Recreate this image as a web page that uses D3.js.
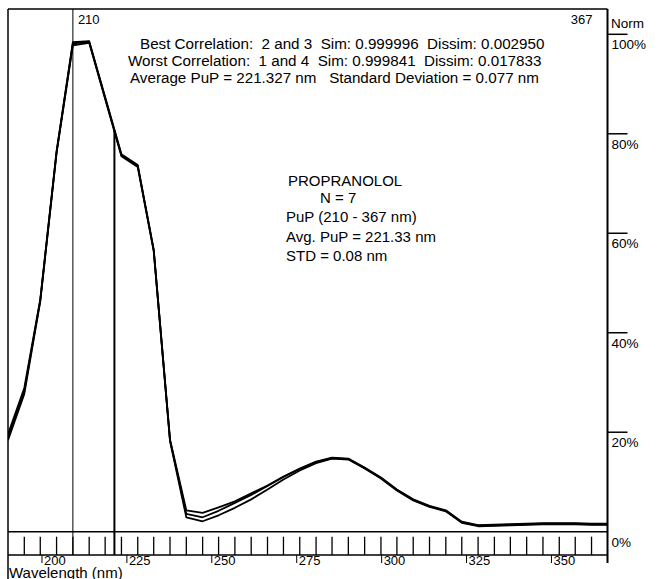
<!DOCTYPE html>
<html>
<head>
<meta charset="utf-8">
<script src="https://cdn.jsdelivr.net/npm/d3@7"></script>
<style>
body { margin: 0; background: #fff; }
svg text { font-family: "Liberation Sans", Arial, sans-serif; fill: #000; }
</style>
</head>
<body>
<div id="chart"></div>
<script>
// Spectrum samples (nm) - one per diode, the small ticks on the axis sit on these
var wavelengths = [190.0, 194.8, 199.5, 204.3, 209.1, 213.9, 218.6, 223.4, 228.2, 232.9,
    237.7, 242.5, 247.3, 252.0, 256.8, 261.6, 266.4, 271.1, 275.9, 280.7,
    285.4, 290.2, 295.0, 299.8, 304.5, 309.3, 314.1, 318.9, 323.6, 328.4,
    333.2, 337.9, 342.7, 347.5, 352.3, 357.0, 361.8, 366.5];

// Normalised absorbance (%) of the overlaid spectra
var traceMain = [19.0, 28.3, 46.5, 76.3, 98.2, 98.5, 87.2, 75.7, 73.5, 56.6,
    18.4, 3.6, 2.9, 4.2, 5.8, 7.4, 9.2, 11.0, 12.6, 14.0,
    14.8, 14.6, 12.8, 10.8, 8.4, 6.4, 5.1, 4.2, 1.9, 1.2,
    1.3, 1.4, 1.5, 1.6, 1.6, 1.6, 1.5, 1.5];
var traceHigh = [19.6, 28.9, 46.7, 76.5, 98.4, 98.6, 87.4, 75.9, 73.7, 56.7,
    18.5, 4.3, 3.8, 4.9, 6.1, 7.7, 9.3, 11.1, 12.7, 14.1,
    14.9, 14.7, 12.9, 10.9, 8.5, 6.5, 5.2, 4.3, 2.0, 1.3,
    1.4, 1.5, 1.6, 1.7, 1.7, 1.7, 1.6, 1.6];
var traceLow = [18.4, 27.7, 46.3, 76.1, 97.8, 98.3, 87.0, 75.5, 73.3, 56.4,
    18.2, 2.9, 2.1, 3.3, 4.8, 6.5, 8.5, 10.5, 12.3, 13.8,
    14.7, 14.5, 12.7, 10.7, 8.3, 6.3, 5.0, 4.1, 1.8, 1.1,
    1.2, 1.3, 1.4, 1.5, 1.5, 1.5, 1.4, 1.4];

var xTickLabels = [200, 225, 250, 275, 300, 325, 350];
var normTicks = [0, 20, 40, 60, 80, 100];

var rangeStart = 210;
var rangeEnd = 367;
var avgPuP = 221.33;

var infoLines = [
    "Best Correlation:  2 and 3  Sim: 0.999996  Dissim: 0.002950",
    "Worst Correlation:  1 and 4  Sim: 0.999841  Dissim: 0.017833",
    "Average PuP = 221.327 nm   Standard Deviation = 0.077 nm"
];
var summaryLines = ["PROPRANOLOL", "N = 7", "PuP (210 - 367 nm)", "Avg. PuP = 221.33 nm", "STD = 0.08 nm"];

// layout (plotTop, not top - top is taken by window)
var width = 663, height = 579;
var left = 8, right = 607.5, plotTop = 9, bottom = 531.7, axisLow = 555;

var svg = d3.select("#chart")
    .append("svg")
    .attr("width", width)
    .attr("height", height);

var xScale = d3.scaleLinear().domain([190, 366.5]).range([left, right]);
var yScale = d3.scaleLinear().domain([0, 100]).range([bottom, 34.3]);

svg.append("clipPath").attr("id", "plotClip")
    .append("rect")
    .attr("x", left).attr("y", plotTop)
    .attr("width", right - left).attr("height", bottom - plotTop);

// frame: top, left, bottom axis band
svg.append("line").attr("x1", left).attr("x2", right).attr("y1", plotTop).attr("y2", plotTop)
    .attr("stroke", "#000").attr("stroke-width", 1.5);
svg.append("line").attr("x1", left).attr("x2", left).attr("y1", plotTop).attr("y2", height)
    .attr("stroke", "#000").attr("stroke-width", 1.5);
svg.append("line").attr("x1", left).attr("x2", right).attr("y1", bottom).attr("y2", bottom)
    .attr("stroke", "#000").attr("stroke-width", 1.5);
svg.append("line").attr("x1", left).attr("x2", right).attr("y1", axisLow).attr("y2", axisLow)
    .attr("stroke", "#000").attr("stroke-width", 1.5);

// sample ticks in the band
svg.append("g").selectAll("line")
    .data(wavelengths.slice(1, -1))
    .enter().append("line")
    .attr("x1", function(d) { return xScale(d); })
    .attr("x2", function(d) { return xScale(d); })
    .attr("y1", bottom + 5)
    .attr("y2", axisLow)
    .attr("stroke", "#000")
    .attr("stroke-width", 1.3);

// labelled wavelength ticks under the band
var xLab = svg.append("g").selectAll("g")
    .data(xTickLabels)
    .enter().append("g")
    .attr("transform", function(d) { return `translate(${xScale(d)}, 0)`; });
xLab.append("line")
    .attr("y1", axisLow).attr("y2", axisLow + 8)
    .attr("stroke", "#000").attr("stroke-width", 1);
xLab.append("text")
    .attr("x", 2).attr("y", axisLow + 10)
    .attr("font-size", 13)
    .text(function(d) { return d; });

svg.append("text")
    .attr("x", 9).attr("y", 578)
    .attr("font-size", 15)
    .text("Wavelength (nm)");

// right norm axis
svg.append("line").attr("x1", right).attr("x2", right).attr("y1", plotTop).attr("y2", axisLow + 8)
    .attr("stroke", "#000").attr("stroke-width", 2);

var yLab = svg.append("g").selectAll("g")
    .data(normTicks)
    .enter().append("g")
    .attr("transform", function(d) { return `translate(${right}, ${yScale(d)})`; });
yLab.filter(function(d) { return d > 0; })
    .append("line")
    .attr("x1", 0).attr("x2", 20)
    .attr("stroke", "#000").attr("stroke-width", 1.5);
yLab.append("text")
    .attr("x", 4).attr("y", 15)
    .attr("font-size", 13.5)
    .text(function(d) { return d + "%"; });

svg.append("text")
    .attr("x", 611).attr("y", 28)
    .attr("font-size", 13.5)
    .text("Norm");

// PuP range limits - the start line snaps to the nearest diode
var startW = d3.least(wavelengths, function(w) { return Math.abs(w - rangeStart); });
svg.append("line")
    .attr("x1", xScale(startW)).attr("x2", xScale(startW))
    .attr("y1", plotTop).attr("y2", axisLow)
    .attr("stroke", "#000").attr("stroke-width", 1);
svg.append("text")
    .attr("x", xScale(startW) + 5).attr("y", 24)
    .attr("font-size", 13)
    .text(rangeStart);
svg.append("text")
    .attr("x", right - 15).attr("y", 24)
    .attr("text-anchor", "end")
    .attr("font-size", 13)
    .text(rangeEnd);

// spectra
var line = d3.line()
    .x(function(d, i) { return xScale(wavelengths[i]); })
    .y(function(d) { return yScale(d); });

var curves = svg.append("g").attr("clip-path", "url(#plotClip)");
[traceLow, traceHigh, traceMain].forEach(function(tr) {
    curves.append("path")
        .datum(tr)
        .attr("d", line)
        .attr("fill", "none")
        .attr("stroke", "#000")
        .attr("stroke-width", 1.8)
        .attr("stroke-linejoin", "round");
});

// drop line at the average PuP
var i1 = d3.bisectLeft(wavelengths, avgPuP);
var t = (avgPuP - wavelengths[i1 - 1]) / (wavelengths[i1] - wavelengths[i1 - 1]);
var pupVal = traceMain[i1 - 1] + t * (traceMain[i1] - traceMain[i1 - 1]);
svg.append("line")
    .attr("x1", xScale(avgPuP)).attr("x2", xScale(avgPuP))
    .attr("y1", yScale(pupVal)).attr("y2", axisLow)
    .attr("stroke", "#000").attr("stroke-width", 2);

// text blocks
var infoX = [140, 128, 130];
svg.append("g").selectAll("text")
    .data(infoLines)
    .enter().append("text")
    .attr("x", function(d, i) { return infoX[i]; })
    .attr("y", function(d, i) { return 49 + i * 17; })
    .attr("font-size", 15.2)
    .style("white-space", "pre")
    .text(function(d) { return d; });

var sumX = [288, 320, 286, 286, 286];
svg.append("g").selectAll("text")
    .data(summaryLines)
    .enter().append("text")
    .attr("x", function(d, i) { return sumX[i]; })
    .attr("y", function(d, i) { return [186, 203, 222, 242, 261][i]; })
    .attr("font-size", 15)
    .text(function(d) { return d; });
</script>
</body>
</html>
